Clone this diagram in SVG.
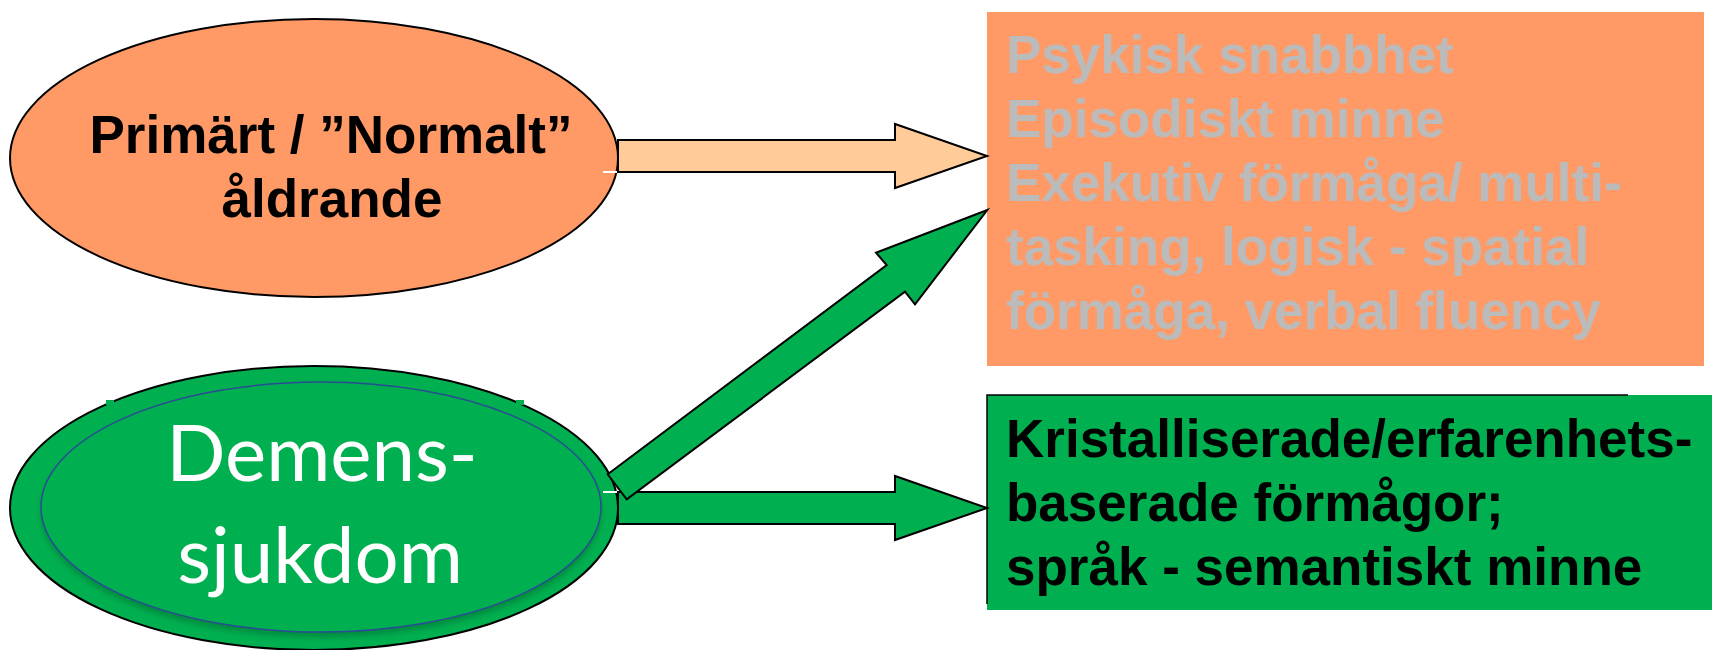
<svg xmlns="http://www.w3.org/2000/svg" width="1712" height="650" viewBox="0 0 1712 650">
  <defs>
    <style>
      .outline { stroke: #000000; stroke-width: 2; stroke-linejoin: miter; }
      .orange { fill: #FF9966; }
      .green { fill: #00B050; }
      .peach { fill: #FFCC99; }
      .bold { font-family: "Liberation Sans", Arial, sans-serif; font-weight: bold; font-size: 53px; }
      .light { font-family: Lato, "Open Sans", sans-serif; font-size: 78px; fill: #FFFFFF; }
      .tick { stroke: #FFFFFF; stroke-width: 2; }
    </style>
    <filter id="softShadow" x="-10%" y="-10%" width="120%" height="130%">
      <feGaussianBlur stdDeviation="3"/>
    </filter>
  </defs>

  <!-- left: normal ageing -->
  <g id="node-normal">
    <ellipse class="orange outline" cx="314" cy="158" rx="304" ry="139"/>
    <text class="bold" x="331" y="153" text-anchor="middle" fill="#000000">Primärt / ”Normalt”</text>
    <text class="bold" x="332" y="217" text-anchor="middle" fill="#000000">åldrande</text>
  </g>

  <!-- left: dementia -->
  <g id="node-dementia">
    <ellipse class="green outline" cx="314" cy="508" rx="304" ry="142"/>
    <ellipse cx="321" cy="512" rx="280" ry="125" fill="#005A2A" opacity="0.45" filter="url(#softShadow)"/>
    <ellipse class="green" cx="321" cy="507" rx="280" ry="125" stroke="#2A4C94" stroke-width="1.5"/>
    <rect x="106" y="400" width="8" height="5" fill="#00B050"/>
    <rect x="516" y="400" width="8" height="5" fill="#00B050"/>
    <text class="light" x="322" y="481" text-anchor="middle">Demens-</text>
    <text class="light" x="320" y="583" text-anchor="middle">sjukdom</text>
  </g>

  <!-- right: fluid abilities -->
  <g id="node-fluid">
    <rect class="orange" x="987" y="12" width="717" height="354"/>
    <g class="bold" fill="#BBBBBB">
      <text x="1006" y="73">Psykisk snabbhet</text>
      <text x="1006" y="137">Episodiskt minne</text>
      <text x="1006" y="201">Exekutiv förmåga/ multi-</text>
      <text x="1006" y="265">tasking, logisk - spatial</text>
      <text x="1006" y="329">förmåga, verbal fluency</text>
    </g>
  </g>

  <!-- right: crystallised abilities -->
  <g id="node-crystallised">
    <rect class="green" x="987" y="395" width="725" height="215"/>
    <path d="M987,604 V395 H1628" fill="none" stroke="#000000" stroke-width="1.5"/>
    <g class="bold" fill="#000000">
      <text x="1006" y="457">Kristalliserade/erfarenhets-</text>
      <text x="1006" y="521">baserade förmågor;</text>
      <text x="1006" y="585">språk - semantiskt minne</text>
    </g>
  </g>

  <!-- block arrows -->
  <g id="connectors">
    <path class="peach outline" d="M618,140 H895 V124 L987,156 L895,188 V172 H618 Z"/>
    <path class="green outline" d="M618,492 H895 V476 L987,508 L895,540 V524 H618 Z"/>
    <path class="green outline" d="M607.7,474.3 L886.7,265 L876,252.7 L987.3,210 L915,304.3 L905,291.7 L626.7,499.3 Z"/>
    <line class="tick" x1="603" y1="172" x2="617" y2="172"/>
    <line class="tick" x1="603" y1="492" x2="617" y2="492"/>
  </g>
</svg>
